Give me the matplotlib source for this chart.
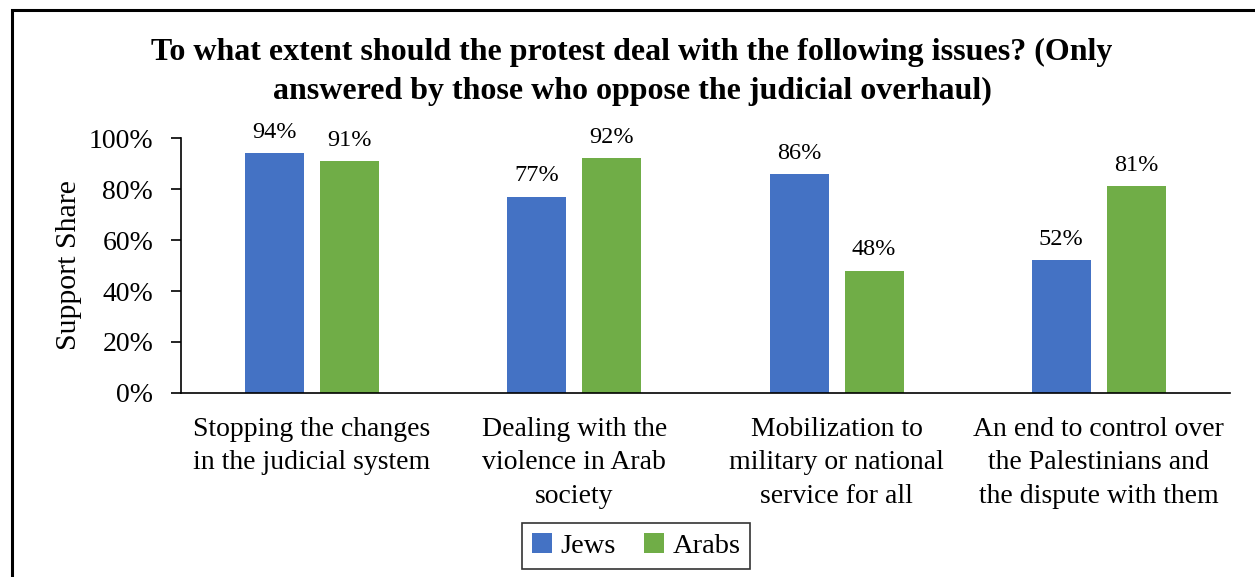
import numpy as np
import matplotlib.pyplot as plt
import matplotlib
from matplotlib.patches import Rectangle

matplotlib.rcParams['font.family'] = ['Liberation Serif', 'DejaVu Serif']

categories = [
    "Stopping the changes\nin the judicial system",
    "Dealing with the\nviolence in Arab\nsociety",
    "Mobilization to\nmilitary or national\nservice for all",
    "An end to control over\nthe Palestinians and\nthe dispute with them",
]
jews = [94, 77, 86, 52]
arabs = [91, 92, 48, 81]
yticks = [0, 20, 40, 60, 80, 100]

fig = plt.figure(figsize=(12.55, 5.77), dpi=100)
ax = fig.add_axes([0.1442, 0.3189, 0.8358, 0.4419])

x = np.arange(len(categories))
w = 0.225
off = 0.143
b1 = ax.bar(x - off, jews, w, color='#4472C4', label='Jews')
b2 = ax.bar(x + off, arabs, w, color='#70AD47', label='Arabs')

for bars, vals in ((b1, jews), (b2, arabs)):
    for rect, v in zip(bars, vals):
        ax.text(rect.get_x() + rect.get_width() / 2, v + 4, f"{v}%",
                ha='center', va='bottom', fontsize=17.5)

ax.set_xlim(-0.5, len(categories) - 0.5)
ax.set_ylim(0, 100)
ax.set_yticks(yticks)
ax.set_yticklabels([f"{t}%" for t in yticks], fontsize=20)
ax.set_xticks(x)
ax.set_xticklabels(categories, fontsize=20, linespacing=1.45, va='top')
ax.tick_params(axis='x', length=0, pad=17)
ax.tick_params(axis='y', length=7, width=1.2, pad=13)
ax.spines['top'].set_visible(False)
ax.spines['right'].set_visible(False)
ax.spines['left'].set_linewidth(1.2)
ax.spines['bottom'].set_linewidth(1.2)
ax.set_ylabel("Support Share", fontsize=21.5, labelpad=5)

fig.text(0.5036, 1 - 72 / 577,
         "To what extent should the protest deal with the following issues? (Only\n"
         "answered by those who oppose the judicial overhaul)",
         ha='center', va='center', fontsize=23, fontweight='bold', linespacing=1.45)

leg = fig.legend(loc='center', bbox_to_anchor=(636 / 1255, 1 - 546 / 577),
                 ncol=2, fontsize=20.5, frameon=True, fancybox=False,
                 edgecolor='black', handlelength=0.7, handleheight=0.7,
                 columnspacing=1.0, handletextpad=0.3, borderpad=0.35)
leg.get_frame().set_linewidth(1.2)

fig.patches.append(Rectangle((12 / 1255, -0.1), 1.2, 1.1 - 10 / 577,
                             transform=fig.transFigure, fill=False,
                             edgecolor='black', linewidth=2.2))

fig.savefig("out.png", dpi=100)
